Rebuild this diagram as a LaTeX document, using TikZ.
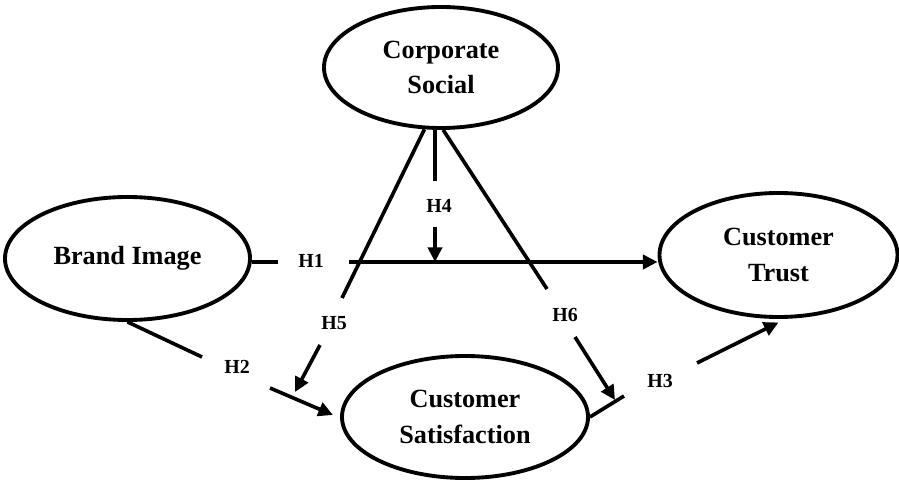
\documentclass[tikz,border=0pt]{standalone}
\usepackage{fontspec}
\setmainfont{Liberation Serif}
\usetikzlibrary{arrows.meta,shapes.geometric}

\begin{document}
\begin{tikzpicture}[x=0.03cm,y=-0.03cm,
  construct/.style={draw,ellipse,line width=3.3pt,inner sep=0pt,align=center,
    font=\fontsize{22.4}{30}\selectfont\bfseries},
  hyp/.style={inner sep=0pt,font=\fontsize{17}{20}\selectfont\bfseries},
  link/.style={line width=3.1pt},
  tolink/.style={link,-{Triangle[length=12.5pt,width=12pt]}}]
\useasboundingbox (0,0) rectangle (899,482);

% latent constructs
\node[construct,minimum width=7.02cm,minimum height=3.63cm] (cs) at (441,67.5) {Corporate\\Social};
\node[construct,minimum width=7.35cm,minimum height=3.69cm] (bi) at (127.5,258.5) {Brand Image};
\node[construct,minimum width=7.14cm,minimum height=3.72cm] (ct) at (778.5,255) {Customer\\Trust};
\node[construct,minimum width=7.38cm,minimum height=3.66cm] (sat) at (465,417) {Customer\\Satisfaction};

% hypothesis labels
\node[hyp] (h1) at (311,261) {H1};
\node[hyp] (h2) at (237,367) {H2};
\node[hyp] (h3) at (660,381) {H3};
\node[hyp] (h4) at (439,206) {H4};
\node[hyp] (h5) at (334,323) {H5};
\node[hyp] (h6) at (565,315) {H6};

% break points of each path around its label
\coordinate (h1a) at (278,262);  \coordinate (h1b) at (349,262);
\coordinate (h2a) at (202,357);  \coordinate (h2b) at (270,388);  \coordinate (h2t) at (333,415);
\coordinate (h3a) at (624,396);  \coordinate (h3b) at (697,363);
\coordinate (h4a) at (435,181);  \coordinate (h4b) at (435,227);
\coordinate (h5a) at (342,298);  \coordinate (h5b) at (320,345);  \coordinate (h5t) at (295,392);
\coordinate (h6a) at (547,289);  \coordinate (h6b) at (575,337);  \coordinate (h6t) at (615,400);

% H1: brand image -> trust
\draw[link] (bi.east |- h1a) -- (h1a);
\draw[tolink] (h1b) -- (ct.west |- h1b);
% H2: brand image -> satisfaction
\draw[link] (bi.south) -- (h2a);
\draw[tolink] (h2b) -- (h2t);
% H3: satisfaction -> trust
\draw[link] (sat.east) -- (h3a);
\draw[tolink] (h3b) -- ([yshift=-3pt]ct.south);
% H4: moderation of H1
\draw[link] (cs.south -| h4a) -- (h4a);
\draw[tolink] (h4b) -- (h4b |- h1a);
% H5: moderation of H2
\draw[link] (cs.255) -- (h5a);
\draw[tolink] (h5b) -- (h5t);
% H6: moderation of H3
\draw[link] (cs.272) -- (h6a);
\draw[tolink] (h6b) -- (h6t);
\end{tikzpicture}
\end{document}
